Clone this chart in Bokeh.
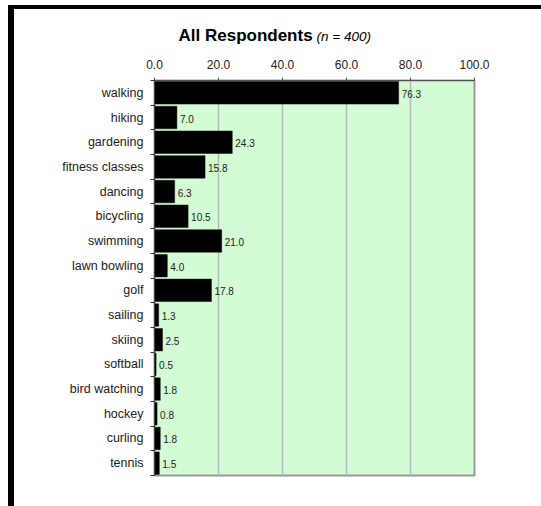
from bokeh.plotting import figure
from bokeh.models import (Range1d, FixedTicker, PrintfTickFormatter, ColumnDataSource, Label)
from bokeh.core.properties import value
from bokeh.embed import file_html
from bokeh.resources import INLINE

categories = ["walking", "hiking", "gardening", "fitness classes", "dancing", "bicycling",
              "swimming", "lawn bowling", "golf", "sailing", "skiing", "softball",
              "bird watching", "hockey", "curling", "tennis"]
percent = [76.3, 7.0, 24.3, 15.8, 6.3, 10.5, 21.0, 4.0, 17.8, 1.3, 2.5, 0.5, 1.8, 0.8, 1.8, 1.5]
x_ticks = [0, 20, 40, 60, 80, 100]
title_main = "All Respondents"
title_sub = "(n = 400)"

FONT = "Liberation Sans"
n = len(categories)
pos = [i + 0.5 for i in range(n)]

src = ColumnDataSource(dict(pos=pos, value=percent, cat=categories,
                            label=["%.1f" % v for v in percent]))

p = figure(width=541, height=506, x_range=Range1d(0, 100), y_range=Range1d(n, 0),
           x_axis_location="above", output_backend="svg", toolbar_location=None,
           min_border_left=154, min_border_right=67, min_border_top=80, min_border_bottom=31)
# black L-shaped edge of the chart object (drawn behind a transparent border area)
p.styles = {"box-shadow": "inset 8px 5px 0 0 white, inset 14px 9px 0 0 black"}

p.background_fill_color = "#D4FCD4"
p.border_fill_alpha = 0
p.outline_line_color = "#9A9A9A"
p.outline_line_width = 2

p.hbar(y="pos", right="value", left=0, height=0.91, source=src,
       fill_color="black", line_color="#111111", line_width=0.5)

p.text(x="value", y="pos", text="label", source=src, x_offset=3, y_offset=1,
       text_baseline="middle", text_align="left", text_font_size="10px",
       text_font=value(FONT), text_color="#222222")

xa = p.xaxis[0]
xa.ticker = FixedTicker(ticks=x_ticks)
xa.formatter = PrintfTickFormatter(format="%.1f")
xa.major_label_text_font = FONT
xa.major_label_text_font_size = "12px"
xa.major_label_text_color = "#222222"
xa.major_tick_out = 3
xa.major_tick_in = 0
xa.minor_tick_out = 0
xa.minor_tick_in = 0
xa.major_label_standoff = 9
xa.axis_line_color = "#555555"
xa.major_tick_line_color = "#555555"

ya = p.yaxis[0]
ya.ticker = FixedTicker(ticks=pos, minor_ticks=list(range(n + 1)))
ya.major_label_overrides = {pp: c for pp, c in zip(pos, categories)}
ya.major_label_text_font = FONT
ya.major_label_text_font_size = "12.5px"
ya.major_label_text_color = "#222222"
ya.major_tick_out = 0
ya.major_tick_in = 0
ya.minor_tick_out = 4
ya.minor_tick_in = 0
ya.minor_tick_line_color = "#333333"
ya.major_label_standoff = 7
ya.axis_line_color = "#444444"

p.xgrid.ticker = FixedTicker(ticks=x_ticks)
p.xgrid.grid_line_color = "#B8B8B8"
p.xgrid.grid_line_width = 1.5
p.ygrid.visible = False

p.add_layout(Label(x=24, y=21, x_units="screen", y_units="screen", text=title_main,
                   text_font=FONT, text_font_style="bold", text_font_size="17px",
                   text_baseline="middle", text_color="black"), "above")
p.add_layout(Label(x=162, y=1, x_units="screen", y_units="screen", text=title_sub,
                   text_font=FONT, text_font_style="italic", text_font_size="13.5px",
                   text_baseline="middle", text_color="black"), "above")

open("out.html", "w").write(file_html(p, INLINE))
